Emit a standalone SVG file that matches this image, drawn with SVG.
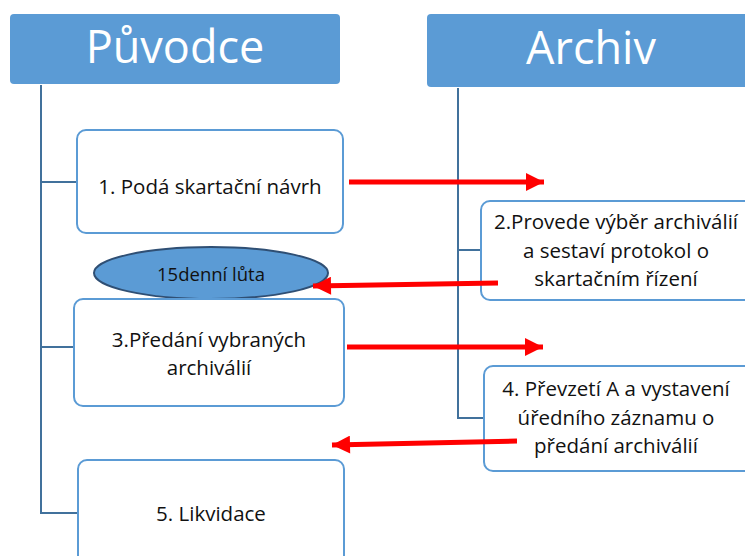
<svg xmlns="http://www.w3.org/2000/svg" width="745" height="556" viewBox="0 0 745 556">
<defs>
<style>
.hdr{fill:#5b9bd5;}
.hdrt{font-family:"Open Sans","Noto Sans",sans-serif;font-size:45px;fill:#fff;text-anchor:middle;}
.box{fill:#fff;stroke:#5b9bd5;stroke-width:2;}
.t{font-family:"Open Sans","Noto Sans",sans-serif;font-size:20.5px;fill:#111;text-anchor:middle;}
.tree{fill:none;stroke:#41719c;stroke-width:2;}
.arr{stroke:#ff0000;stroke-width:5;fill:none;marker-end:url(#ah);}
</style>
<marker id="ah" viewBox="0 0 10 10" refX="10" refY="5" markerWidth="3.8" markerHeight="3.6" markerUnits="strokeWidth" orient="auto">
<path d="M0,0 L10,5 L0,10 Z" fill="#ff0000"/>
</marker>
</defs>
<rect width="745" height="556" fill="#fff"/>
<g id="tree-lines">
<path class="tree" d="M41,85 V513 H78 M41,182 H77 M41,347 H74"/>
<path class="tree" d="M458,88 V418 H484 M458,250 H481"/>
</g>
<g id="puvodce">
<rect class="hdr" x="10" y="14" width="330" height="70" rx="4"/>
<text class="hdrt" x="175" y="63">Původce</text>
</g>
<g id="archiv">
<rect class="hdr" x="427" y="14" width="330" height="73" rx="4"/>
<text class="hdrt" x="591" y="64">Archiv</text>
</g>
<g id="box1">
<rect class="box" x="77" y="130" width="266" height="103" rx="9"/>
<text class="t" x="210" y="194">1. Podá skartační návrh</text>
</g>
<g id="box2">
<rect class="box" x="481" y="201" width="280" height="99" rx="9"/>
<text class="t" x="616" y="229">2.Provede výběr archiválií</text>
<text class="t" x="616" y="258">a sestaví protokol o</text>
<text class="t" x="616" y="286">skartačním řízení</text>
</g>
<g id="ellipse">
<ellipse cx="211" cy="273" rx="117" ry="26" fill="#5b9bd5" stroke="#2f4f74" stroke-width="2"/>
<text class="t" x="211" y="281" style="font-size:18.5px">15denní lůta</text>
</g>
<g id="box3">
<rect class="box" x="74" y="299" width="270" height="107" rx="9"/>
<text class="t" x="209" y="347">3.Předání vybraných</text>
<text class="t" x="209" y="375">archiválií</text>
</g>
<g id="box4">
<rect class="box" x="484" y="366" width="280" height="105" rx="9"/>
<text class="t" x="616" y="396">4. Převzetí A a vystavení</text>
<text class="t" x="616" y="425">úředního záznamu o</text>
<text class="t" x="616" y="453">předání archiválií</text>
</g>
<g id="box5">
<rect class="box" x="78" y="460" width="266" height="110" rx="9"/>
<text class="t" x="211" y="521">5. Likvidace</text>
</g>
<g id="connectors">
<line class="arr" x1="349" y1="182" x2="544" y2="182"/>
<line class="arr" x1="498" y1="283" x2="313" y2="286"/>
<line class="arr" x1="347" y1="347" x2="543" y2="347"/>
<line class="arr" x1="517" y1="441" x2="332" y2="445"/>
</g>
</svg>
